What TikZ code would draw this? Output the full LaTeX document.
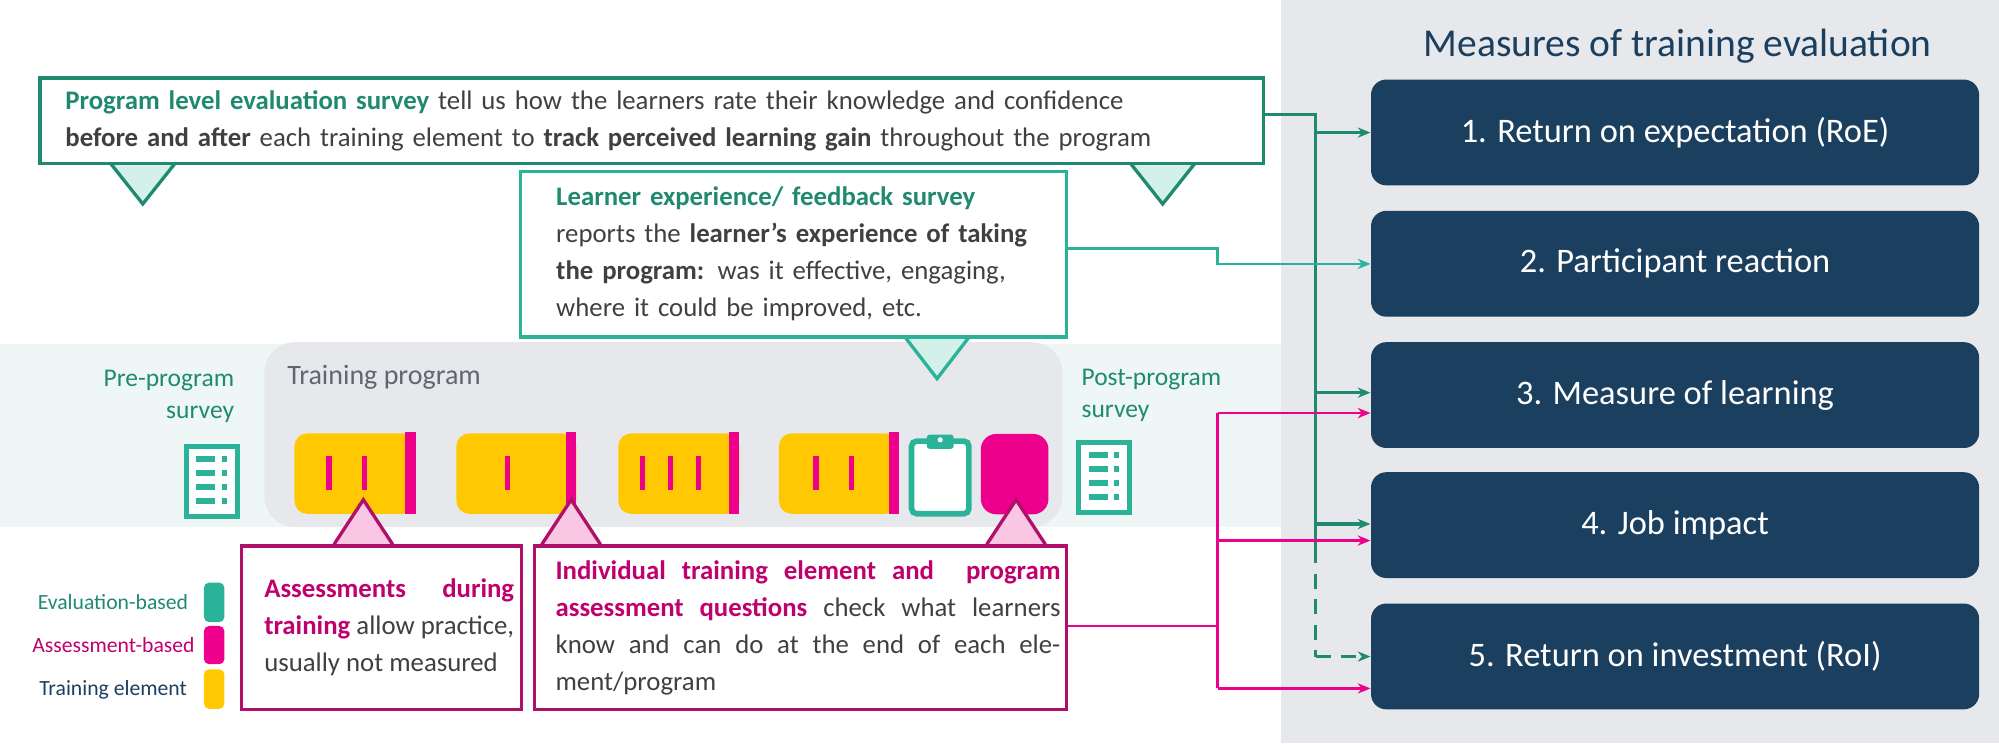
\documentclass[tikz,border=0pt]{standalone}
\usepackage{fontspec}
\setmainfont{Carlito}
\usetikzlibrary{arrows.meta}
\definecolor{panel}{HTML}{E6E8EC}
\definecolor{band}{HTML}{EEF7F6}
\definecolor{navy}{HTML}{1B3F5E}
\definecolor{dteal}{HTML}{1F8A70}
\definecolor{teal}{HTML}{2BB39A}
\definecolor{lteal}{HTML}{D3F1EA}
\definecolor{mag}{HTML}{EC008C}
\definecolor{dmag}{HTML}{B0106A}
\definecolor{tmag}{HTML}{C0006E}
\definecolor{pink}{HTML}{F9C6E3}
\definecolor{yel}{HTML}{FFC800}
\definecolor{gtext}{HTML}{404040}
\definecolor{ptext}{HTML}{5F6670}
\tikzset{
 measure/.style={fill=navy,rounded corners=6pt,minimum width=238.5pt,minimum height=41.5pt,anchor=north west,text=white,font=\fontsize{13.5}{16}\selectfont,inner sep=0pt},
 callout/.style={draw,line width=1.3pt,fill=white,anchor=north west,align=left,inner sep=0pt,text=gtext,font=\fontsize{10.5}{14.5}\selectfont},
 elem/.style={fill=yel,rounded corners=5pt},
 stripe/.style={fill=mag},
 bar/.style={mag,line width=2.2pt},
 tealarr/.style={dteal,line width=1.3pt,-{Stealth[length=5pt,width=4pt]}},
 magarr/.style={mag,line width=1pt,-{Stealth[length=5pt,width=4pt]}},
 lbl/.style={font=\fontsize{10}{12.5}\selectfont,text=dteal}
}
\begin{document}
\begin{tikzpicture}[x=0.5pt,y=-0.5pt]
\useasboundingbox (0,0) rectangle (1568,583);
\fill[panel] (1005,0) rectangle (1568,583);
\fill[band] (0,270) rectangle (1005,413);
\node[fill=panel,rounded corners=12pt,minimum width=313pt,minimum height=72.5pt,anchor=north west,inner sep=0pt] (prog) at (207,268) {};
\node[anchor=north west,font=\fontsize{11}{13}\selectfont,text=ptext,inner sep=0pt] (progt) at (225,286) {Training program};
% title
\node[font=\fontsize{15.5}{18}\selectfont,text=navy,inner sep=0pt] (title) at (1316,36) {Measures of training evaluation};
\node[measure] (m1) at (1075,62) {\hspace*{0pt}1. Return on expectation (RoE)};
\node[measure] (m2) at (1075,165) {2. Participant reaction};
\node[measure] (m3) at (1075,268) {3. Measure of learning};
\node[measure] (m4) at (1075,370) {4. Job impact};
\node[measure] (m5) at (1075,473) {5. Return on investment (RoI)};
% triangles top box
\draw[dteal,line width=1.3pt,fill=lteal] (85,126)--(112,160)--(139,126);
\draw[dteal,line width=1.3pt,fill=lteal] (885,126)--(912,160)--(939,126);
\node[callout,draw=dteal,minimum width=480pt,minimum height=33.5pt,text width=470pt] (top) at (30,60) {\hspace*{5pt}\textbf{\color{dteal}Program level evaluation survey} tell us how the learners rate their knowledge and confidence\\\hspace*{5pt}\textbf{before and after} each training element to \textbf{track perceived learning gain} throughout the program};
\draw[teal,line width=1.3pt,fill=lteal] (708,262)--(735,297)--(762,262);
\node[callout,draw=teal,minimum width=214pt,minimum height=65pt,text width=200pt] (fb) at (407,133) {\hspace*{7pt}\begin{minipage}{200pt}\fontsize{10.5}{14.5}\selectfont\textbf{\color{dteal}Learner experience/ feedback survey}\\ reports the \textbf{learner's experience of taking the program:} was it effective, engaging, where it could be improved, etc.\end{minipage}};
% pre/post
\node[lbl,align=right,anchor=east,inner sep=0pt] (pre) at (184,311) {Pre-program\\survey};
\node[lbl,align=left,anchor=west,inner sep=0pt] (post) at (848,310) {Post-program\\survey};
\foreach \n/\x/\y in {preic/146/350,postic/846/347}{
 \draw[teal,line width=2pt,fill=white] (\x,\y) rectangle ++(40,55);
 \foreach \k in {0,1,2,3}{
  \draw[teal,line width=2.3pt] (\x+8,\y+10+\k*11)--++(15,0);
  \draw[teal,line width=2.3pt] (\x+28,\y+10+\k*11)--++(4,0);}
 \coordinate (\n) at (\x+20,\y+27);
}
% training elements
\foreach \a/\b in {231/326,358/452,485/580,611/705}{
 \fill[elem] (\a,340) rectangle (\b,403);
 \fill[stripe] (\b-8,339) rectangle (\b,403);
}
\foreach \x in {258,286,398,504,526,548,640,668}{\draw[bar] (\x,358)--(\x,384);}
\draw[teal,line width=2.2pt,fill=white,rounded corners=2pt] (715,346) rectangle (760,403);
\fill[teal,rounded corners=1pt] (727,341) rectangle (748,352);
\fill[white] (737.5,345) circle (2);
\node[fill=mag,rounded corners=6pt,minimum width=26.5pt,minimum height=31.5pt,anchor=north west,inner sep=0pt] (sq) at (769,340) {};
% pink triangles
\foreach \t in {285,448,797}{\draw[dmag,line width=1.3pt,fill=pink] (\t-23,427)--(\t,392)--(\t+23,427);}
\node[callout,draw=dmag,minimum width=110pt,minimum height=64pt] (a1) at (188,427) {\hspace*{6pt}\begin{minipage}{98pt}\fontsize{10.5}{14.5}\selectfont\textbf{\color{tmag}Assessments during training} allow practice, usually not measured\end{minipage}};
\node[callout,draw=dmag,minimum width=208.5pt,minimum height=64pt] (a2) at (418,427) {\hspace*{6pt}\begin{minipage}{198pt}\fontsize{10.5}{14.5}\selectfont\textbf{\color{tmag}Individual training element and \ program assessment questions} check what learners know and can do at the end of each element/program\end{minipage}};
% legend
\node[anchor=east,font=\fontsize{8.5}{10}\selectfont,text=dteal,inner sep=0pt] (l1) at (148,472) {Evaluation-based};
\node[anchor=east,font=\fontsize{8.5}{10}\selectfont,text=tmag,inner sep=0pt] (l2) at (153,506) {Assessment-based};
\node[anchor=east,font=\fontsize{8.5}{10}\selectfont,text=navy,inner sep=0pt] (l3) at (147,541) {Training element};
\fill[teal,rounded corners=2pt] (160,457) rectangle (176,488);
\fill[mag,rounded corners=2pt] (160,491) rectangle (176,521);
\fill[yel,rounded corners=2pt] (160,525) rectangle (176,556);
% connectors
\coordinate (tj) at (1032,90);
\draw[dteal,line width=1.3pt] (top.east|-tj) -- (tj) -- (1032,430);
\draw[dteal,line width=1.3pt,dash pattern=on 6pt off 4pt] (1032,430)--(1032,515);
\draw[tealarr] (1032,104) -- (m1.west|-1032,104);
\draw[tealarr] (1032,308) -- (m3.west|-1032,308);
\draw[tealarr] (1032,411) -- (m4.west|-1032,411);
\draw[tealarr,dash pattern=on 6pt off 4pt] (1032,515) -- (m5.west|-1032,515);
\draw[teal,line width=1pt,-{Stealth[length=5pt,width=4pt]}] (fb.east|-0,195) -- (955,195) -- (955,207) -- (m2.west|-0,207);
\draw[mag,line width=1pt] (a2.east|-0,491) -- (955,491);
\draw[mag,line width=1pt] (955,324)--(955,540);
\draw[magarr] (955,324) -- (m3.west|-0,324);
\draw[magarr] (955,424) -- (m4.west|-0,424);
\draw[magarr] (955,540) -- (m5.west|-0,540);
\end{tikzpicture}
\end{document}
